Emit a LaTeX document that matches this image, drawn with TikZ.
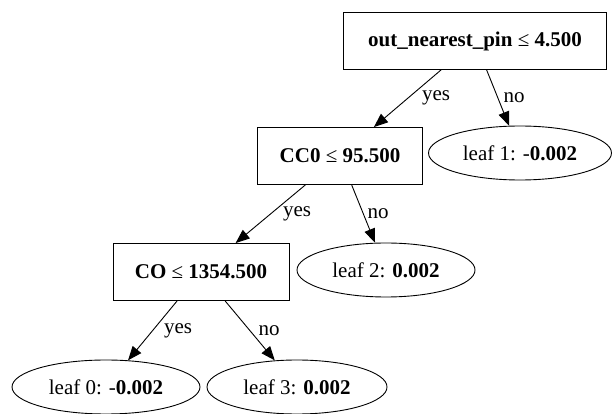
\documentclass[tikz,border=0pt]{standalone}
\usepackage{fontspec}
\setmainfont{Liberation Serif}
\usetikzlibrary{shapes.geometric,arrows.meta}
\tikzset{
	split/.style={draw, rectangle, minimum height=57pt, inner sep=0pt, line width=0.9pt, font=\fontsize{21}{25}\selectfont},
	leaf/.style={draw, ellipse, minimum height=54pt, inner sep=0pt, line width=0.9pt, font=\fontsize{21}{25}\selectfont},
	branch/.style={-{Triangle[length=14pt,width=11pt]}, line width=0.9pt},
	lbl/.style={inner sep=0pt, font=\fontsize{21}{25}\selectfont}
}
\begin{document}
\begin{tikzpicture}[x=1pt,y=-1pt]
	\useasboundingbox (0,0) rectangle (614,414);
	\node[split, minimum width=263pt] at (475,41) (root) {\textbf{out\_nearest\_pin} ≤ \textbf{4.500}};
	\node[split, minimum width=165pt] at (340,156) (cc0) {\textbf{CC0} ≤ \textbf{95.500}};
	\node[split, minimum width=176pt] at (201,272) (co) {\textbf{CO} ≤ \textbf{1354.500}};
	\node[leaf, minimum width=183pt] at (520,153) (leaf1) {leaf 1: -\textbf{0.002}};
	\node[leaf, minimum width=178pt] at (386,270) (leaf2) {leaf 2: \textbf{0.002}};
	\node[leaf, minimum width=188pt] at (106,387) (leaf0) {leaf 0: -\textbf{0.002}};
	\node[leaf, minimum width=180pt] at (297,387) (leaf3) {leaf 3: \textbf{0.002}};
	
	\node[lbl] at (436,98) (yes1) {yes};
	\node[lbl] at (514,98) (no1) {no};
	\node[lbl] at (297,214) (yes2) {yes};
	\node[lbl] at (378,214) (no2) {no};
	\node[lbl] at (178,331) (yes3) {yes};
	\node[lbl] at (269,331) (no3) {no};
	
	\draw[branch] (root) -- (cc0);
	\draw[branch] (root) -- (leaf1);
	\draw[branch] (cc0) -- (co);
	\draw[branch] (cc0) -- (leaf2);
	\draw[branch] (co) -- (leaf0);
	\draw[branch] (co) -- (leaf3);
\end{tikzpicture}
\end{document}
